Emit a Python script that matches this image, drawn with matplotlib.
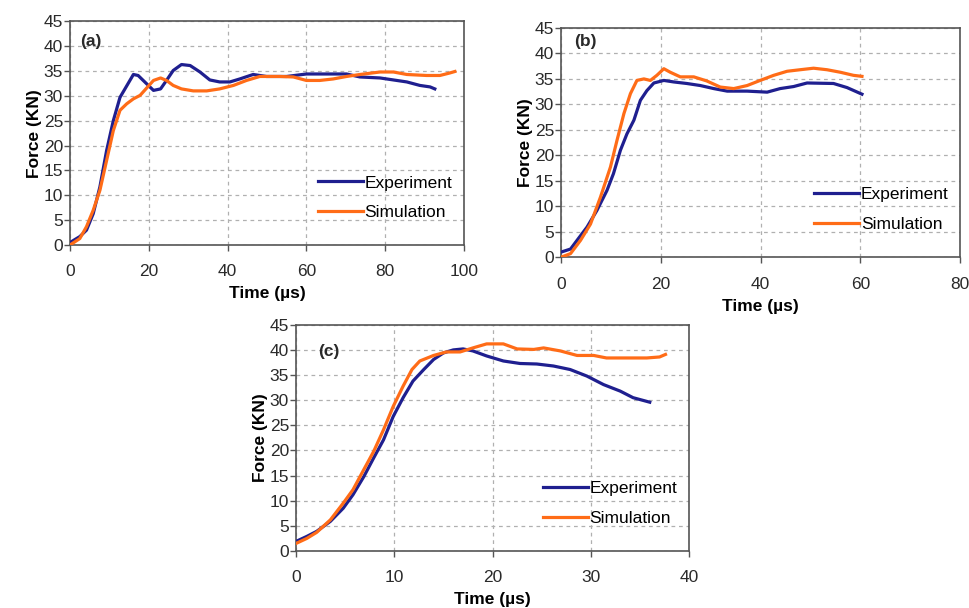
import numpy as np
import matplotlib
matplotlib.use('Agg')
import matplotlib.pyplot as plt

plt.rcParams['font.family'] = ['Liberation Sans', 'DejaVu Sans']

# ---- data (time in us, force in kN) ----
# panel (a)
a_exp_t = [0, 2.5, 4.2, 5.9, 7.6, 9.3, 11, 12.7, 14.4, 16.1, 17.3, 19.5, 21.2, 23, 24.5,
           26.2, 28.3, 30.5, 33, 35.5, 38, 40.6, 43.1, 46.5, 49.9, 55, 60, 66.8, 70.2,
           73.6, 78.7, 82.1, 85.5, 88.8, 91.4, 92.6]
a_exp_f = [0.5, 1.7, 3, 6.3, 11.7, 19, 25, 29.7, 32, 34.3, 34.1, 32.4, 31.1, 31.4, 33.1,
           35.1, 36.3, 36.1, 34.8, 33.2, 32.8, 32.8, 33.4, 34.3, 33.9, 33.9, 34.4, 34.4, 34.4,
           33.8, 33.6, 33.2, 32.8, 32.1, 31.8, 31.4]
a_sim_t = [0, 2.5, 4.2, 5.9, 7.6, 9.3, 11, 12.7, 14.4, 16.1, 17.8, 19.5, 21.2, 23, 24.5,
           26.2, 28.3, 31.3, 34.7, 38, 41.5, 44.8, 48.2, 53.3, 56.7, 60, 63.4, 66.8, 70.2,
           73.6, 78.7, 82.1, 85.5, 90.5, 93.9, 96.4, 97.7]
a_sim_f = [0, 1.3, 3.7, 7, 11, 17, 23, 27.1, 28.4, 29.4, 30.1, 31.6, 33.1, 33.6, 33.1,
           32.1, 31.4, 31, 31, 31.4, 32.1, 33.1, 33.9, 33.9, 33.8, 33.1, 33.1, 33.4, 33.9,
           34.3, 34.8, 34.8, 34.3, 34.1, 34.1, 34.6, 34.9]

# panel (b)
b_exp_t = [0, 1.9, 3.2, 5.2, 7.2, 9.2, 10.5, 11.9, 13.2, 14.6, 15.9, 17.2, 18.6, 20.6,
           22.6, 25.2, 27.9, 30.6, 33.3, 37.3, 41.3, 43.9, 46.6, 49.3, 54.6, 57.3, 60.3]
b_exp_f = [1, 1.6, 3.3, 5.9, 9.2, 13.1, 16.4, 21, 24.2, 26.9, 30.8, 32.7, 34.2, 34.7,
           34.4, 34.1, 33.7, 33.1, 32.6, 32.6, 32.4, 33.1, 33.5, 34.2, 34.1, 33.3, 32]
b_sim_t = [0, 1.9, 3.9, 5.9, 7.9, 9.9, 11.2, 12.6, 13.9, 15.2, 16.6, 17.9, 19.2, 20.6,
           21.9, 23.9, 26.6, 29.2, 31.9, 34.6, 37.3, 39.9, 42.6, 45.3, 47.9, 50.6, 53.3,
           56, 58.6, 60.3]
b_sim_f = [0, 0.7, 3.3, 6.5, 11.8, 17.7, 22.9, 28.2, 32.1, 34.7, 35, 34.7, 35.7, 37,
           36.3, 35.4, 35.4, 34.6, 33.4, 33.1, 33.7, 34.7, 35.7, 36.5, 36.8, 37.1, 36.8,
           36.3, 35.7, 35.5]

# panel (c)
c_exp_t = [0, 1.1, 2.1, 3.5, 4.8, 5.8, 6.9, 7.9, 8.9, 9.9, 10.9, 11.9, 13, 14, 15, 16,
           17, 18, 19.4, 21.1, 22.8, 24.5, 26.2, 27.9, 29.6, 31.3, 33, 34.3, 36]
c_exp_f = [1.9, 2.9, 3.9, 5.9, 8.5, 11.2, 14.8, 18.5, 22.1, 26.8, 30.5, 33.8, 36.1, 38.1,
           39.4, 40, 40.2, 39.8, 38.8, 37.8, 37.3, 37.2, 36.8, 36.1, 34.8, 33.1, 31.8, 30.5,
           29.6]
c_sim_t = [0, 1.1, 2.1, 3.5, 4.8, 5.8, 6.9, 7.9, 8.9, 9.9, 10.9, 11.8, 12.6, 14, 15.3,
           16.7, 18, 19.4, 21.1, 22.5, 24.2, 25.2, 26.9, 28.6, 30.3, 31.6, 33, 35.7, 37,
           37.6]
c_sim_f = [1.5, 2.5, 3.7, 6.2, 9.5, 12.2, 16.2, 19.8, 24.1, 28.8, 32.8, 36.1, 37.8, 38.9,
           39.6, 39.6, 40.4, 41.2, 41.2, 40.2, 40.1, 40.4, 39.8, 38.9, 38.9, 38.4, 38.4,
           38.4, 38.6, 39.1]

BLUE = '#1f1f8f'
ORANGE = '#ff6c17'

fig = plt.figure(figsize=(9.69, 6.08), dpi=100)

panels = [
    # rect, tag, tag pos, xmax, xstep, data
    ([0.0722, 0.597, 0.4066, 0.368], '(a)', (0.025, 0.91), 100, 20,
     a_exp_t, a_exp_f, a_sim_t, a_sim_f),
    ([0.579, 0.577, 0.412, 0.377], '(b)', (0.033, 0.94), 80, 20,
     b_exp_t, b_exp_f, b_sim_t, b_sim_f),
    ([0.3055, 0.0938, 0.4056, 0.372], '(c)', (0.056, 0.88), 40, 10,
     c_exp_t, c_exp_f, c_sim_t, c_sim_f),
]

for rect, tag, tagpos, xmax, xstep, et, ef, st, sf in panels:
    ax = fig.add_axes(rect)
    ax.plot(et, ef, color=BLUE, lw=2.3, label='Experiment', zorder=3)
    ax.plot(st, sf, color=ORANGE, lw=2.3, label='Simulation', zorder=3)
    ax.set_xlim(0, xmax)
    ax.set_ylim(0, 45)
    ax.set_xticks(np.arange(0, xmax + 1, xstep))
    ax.set_yticks(np.arange(0, 46, 5))
    ax.grid(True, color='#b0b0b0', linestyle=(0, (3, 3)), lw=0.9)
    ax.set_axisbelow(True)
    for s in ax.spines.values():
        s.set_color('#555555')
        s.set_linewidth(1.2)
    ax.tick_params(direction='out', length=4, width=1, color='#555555',
                   labelsize=12.5, labelcolor='#2a2a2a')
    ax.tick_params(axis='x', pad=10)
    ax.tick_params(axis='y', pad=1)
    ax.set_xlabel('Time (\u00b5s)', fontsize=12.5, fontweight='bold', labelpad=5)
    ax.set_ylabel('Force (KN)', fontsize=12.5, fontweight='bold', labelpad=1)
    ax.text(tagpos[0], tagpos[1], tag, transform=ax.transAxes, fontsize=12.5,
            fontweight='bold', color='#2a2a2a', va='center', ha='left')
    ax.legend(loc='lower right', bbox_to_anchor=(1.01, 0.04), frameon=False,
              fontsize=12.5, handlelength=2.6, handletextpad=0.1, labelspacing=0.85)

fig.savefig('out.png', dpi=100)
